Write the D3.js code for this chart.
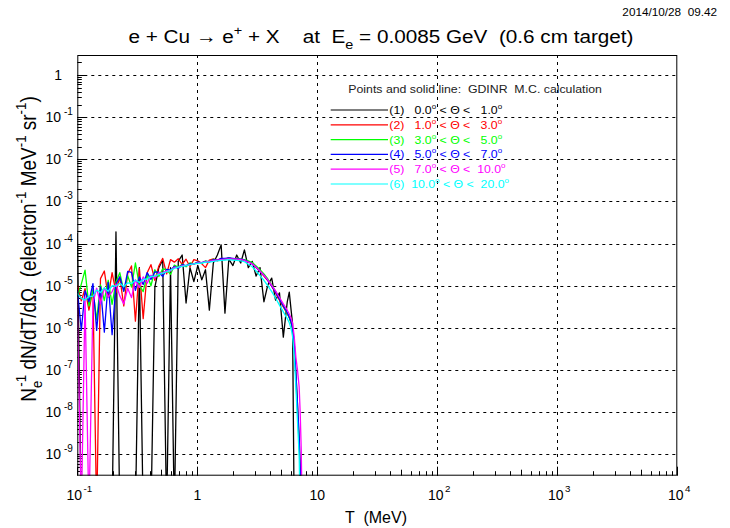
<!DOCTYPE html>
<html>
<head>
<meta charset="utf-8">
<script src="https://cdn.jsdelivr.net/npm/d3@7/dist/d3.min.js"></script>
<style>
  body { margin: 0; background: #fff; }
  text { font-family: 'Liberation Sans', Arial, Helvetica, sans-serif; white-space: pre; }
</style>
</head>
<body>
<svg width="730" height="528"></svg>
<script>
// positron spectrum, GDINR M.C.
// y values are stored as log10(dN/dT/dOmega); null = empty bin (zero)

var energy = [0.100, 0.108, 0.116, 0.125, 0.135, 0.145, 0.156, 0.168, 0.181, 0.195,
  0.210, 0.226, 0.244, 0.263, 0.283, 0.305, 0.329, 0.354, 0.382, 0.411,
  0.443, 0.478, 0.515, 0.555, 0.598, 0.644, 0.694, 0.748, 0.806, 0.869,
  0.936, 1.01, 1.09, 1.17, 1.26, 1.36, 1.47, 1.58, 1.70, 1.83,
  1.98, 2.13, 2.30, 2.47, 2.66, 2.87, 3.09, 3.33, 3.59, 3.87,
  4.17, 4.49, 4.84, 5.21, 5.62, 5.84, 6.05, 6.22, 6.42, 6.63,
  6.84, 7.06, 7.20, 7.35, 7.48];

var log10_ch1 = [-3.75, null, null, null, null, null, null, null, null, null,
  -3.72, null, null, null, null, null, -4.57, null, null, null,
  -5.03, -4.57, -4.39, null, -4.57, null, -4.42, -4.27, -5.41, -4.57,
  -4.90, -4.52, -4.86, -4.62, -5.58, -4.46, -4.27, -4.03, -5.65, -4.37,
  -4.52, -4.27, -4.46, -4.15, -4.57, -4.42, -4.77, -4.57, -5.38, -4.98,
  -4.82, -5.34, -5.17, -6.22, -5.38, -5.15, -5.58, -5.90, null, null,
  null, null, null, null, null];

var log10_ch2 = [-4.98, -5.36, -5.07, -5.58, -5.10, null, -4.83, -4.65, -5.27, -4.69,
  -5.16, -4.79, -5.48, -4.71, -4.53, -5.84, -4.59, -5.78, -4.69, -4.50,
  -4.87, -4.53, -4.35, -4.72, -4.38, -4.44, -4.36, -4.49, -4.37, -4.55,
  -4.38, -4.41, -4.48, -4.57, -4.39, -4.36, -4.41, -4.35, -4.37, -4.34,
  -4.36, -4.35, -4.38, -4.40, -4.43, -4.47, -4.57, -4.65, -4.77, -4.88,
  -5.01, -5.17, -5.34, -5.50, -5.66, -5.75, -5.87, -6.02, -6.35, -7.06,
  -7.82, -8.63, -9.34, null, null];

var log10_ch3 = [-5.28, -4.96, -4.63, -5.48, -5.10, -5.81, -4.98, -5.35, -4.87, -5.44,
  -4.91, -4.69, -5.13, -4.76, -5.03, -4.46, -4.99, -5.14, -4.74, -5.00,
  -4.62, -4.78, -4.60, -4.62, -4.73, -4.51, -4.56, -4.49, -4.55, -4.46,
  -4.48, -4.44, -4.47, -4.41, -4.44, -4.37, -4.40, -4.36, -4.38, -4.34,
  -4.37, -4.35, -4.37, -4.38, -4.41, -4.45, -4.53, -4.62, -4.72, -4.84,
  -4.98, -5.13, -5.31, -5.48, -5.66, -5.76, -5.89, -6.05, -6.43, -7.21,
  -8.00, -8.78, -9.49, null, null];

var log10_ch4 = [-5.08, -6.06, -5.12, -5.38, -4.95, -6.06, -5.03, -6.10, -4.92, -6.16,
  -4.96, -4.79, -5.13, -4.66, -4.68, -5.11, -4.79, -4.97, -4.69, -4.85,
  -4.67, -4.68, -4.78, -4.61, -4.63, -4.54, -4.59, -4.50, -4.52, -4.48,
  -4.49, -4.44, -4.45, -4.42, -4.43, -4.38, -4.39, -4.35, -4.35, -4.34,
  -4.35, -4.36, -4.37, -4.39, -4.43, -4.48, -4.56, -4.66, -4.75, -4.87,
  -5.01, -5.15, -5.32, -5.48, -5.64, -5.74, -5.86, -6.01, -6.35, -7.06,
  -7.82, -8.58, -9.24, null, null];

var log10_ch5 = [-5.28, null, -5.27, null, -5.40, -5.06, -5.43, -5.05, -5.27, -5.14,
  -4.96, -5.24, -5.43, -5.06, -5.28, -4.86, -5.04, -4.79, -4.94, -4.75,
  -4.82, -4.69, -4.70, -4.64, -4.65, -4.56, -4.57, -4.52, -4.52, -4.50,
  -4.48, -4.46, -4.45, -4.43, -4.42, -4.40, -4.39, -4.38, -4.37, -4.36,
  -4.36, -4.37, -4.38, -4.40, -4.44, -4.48, -4.56, -4.65, -4.75, -4.86,
  -4.99, -5.12, -5.28, -5.43, -5.58, -5.67, -5.77, -5.89, -6.20, -6.70,
  -7.00, -7.40, -8.00, -8.90, null];

var log10_ch6 = [-5.18, -5.30, -5.34, -5.25, -5.25, -5.10, -5.16, -5.05, -5.13, -5.00,
  -5.01, -4.94, -5.02, -4.93, -4.95, -4.87, -4.92, -4.85, -4.84, -4.78,
  -4.77, -4.73, -4.70, -4.67, -4.63, -4.59, -4.56, -4.54, -4.52, -4.50,
  -4.48, -4.47, -4.46, -4.44, -4.44, -4.42, -4.41, -4.40, -4.39, -4.38,
  -4.39, -4.40, -4.41, -4.43, -4.49, -4.55, -4.65, -4.76, -4.87, -5.00,
  -5.14, -5.29, -5.46, -5.62, -5.78, -5.88, -6.02, -6.20, -6.65, -7.40,
  -8.22, -9.03, null, null, null];

var thetaLo = ["0.0", "1.0", "3.0", "5.0", "7.0", "10.0"];
var thetaHi = ["1.0", "3.0", "5.0", "7.0", "10.0", "20.0"];
var colors = ["#000000", "#ff0000", "#00ff00", "#0000ff", "#ff00ff", "#00ffff"];
var seriesList = [log10_ch1, log10_ch2, log10_ch3, log10_ch4, log10_ch5, log10_ch6];

var xTicks = [0.1, 1, 10, 100, 1000, 10000];
var xTickExp = ["-1", "", "", "2", "3", "4"];
var yTicks = [1, 1e-1, 1e-2, 1e-3, 1e-4, 1e-5, 1e-6, 1e-7, 1e-8, 1e-9];
var yTickExp = ["", "-1", "-2", "-3", "-4", "-5", "-6", "-7", "-8", "-9"];

// frame
var fLeft = 77.3, fRight = 677.3, fTop = 55, fBottom = 475.7;
var sx = 1.12; // title/legend text is a bit wide in the picture

var svg = d3.select("svg");

var x = d3.scaleLog().domain([0.1, 1e4]).range([fLeft, fRight]);
var y = d3.scaleLog().domain([3.1e-10, 3]).range([fBottom, fTop]);

// text with ROOT-like super/subscripts
function addText(parent, px, py, size, anchor, parts, color, rot, stretch) {
    var st = stretch || sx;
    var tr = "translate(" + px + "," + py + ")" + (rot ? " rotate(-90) scale(1," + st + ")" : " scale(" + st + ",1)");
    var t = parent.append("text")
        .attr("transform", tr)
        .attr("text-anchor", anchor)
        .style("font-size", size + "px")
        .style("fill", color || "#000");
    var shift = 0;
    parts.forEach(function (p) {
        var s = (typeof p === "string") ? {t: p} : p;
        var want = s.sup ? -(s.raise || 0.45) * size : (s.sub ? 0.3 * size : 0);
        var ts = t.append("tspan").text(s.t).attr("dy", want - shift);
        if (s.dx) ts.attr("dx", s.dx);
        if (s.sup || s.sub) ts.style("font-size", (s.small || 0.7) * size + "px");
        shift = want;
    });
    return t;
}

svg.append("clipPath").attr("id", "frameClip")
    .append("rect")
    .attr("x", fLeft).attr("y", fTop)
    .attr("width", fRight - fLeft).attr("height", fBottom - fTop);

// grid
var grid = svg.append("g")
    .attr("stroke", "#000")
    .attr("stroke-width", 1)
    .attr("stroke-dasharray", "3,4");
grid.selectAll("line.gx")
    .data(xTicks.slice(1, 5))
    .enter().append("line")
    .attr("x1", function (d) { return Math.round(x(d)) + 0.5; })
    .attr("x2", function (d) { return Math.round(x(d)) + 0.5; })
    .attr("y1", fTop).attr("y2", fBottom);
grid.selectAll("line.gy")
    .data(yTicks)
    .enter().append("line")
    .attr("y1", function (d) { return Math.round(y(d)) + 0.5; })
    .attr("y2", function (d) { return Math.round(y(d)) + 0.5; })
    .attr("x1", fLeft).attr("x2", fRight);

// minor + major ticks (inside the frame, bottom and left only)
var xMinor = [], yMinor = [];
for (var e = -1; e < 4; e++) {
    for (var k = 2; k < 10; k++) xMinor.push(k * Math.pow(10, e));
}
for (var e2 = -10; e2 < 1; e2++) {
    for (var k2 = 2; k2 < 10; k2++) {
        var v = k2 * Math.pow(10, e2);
        if (v > 3.1e-10 && v < 3) yMinor.push(v);
    }
}
var ticks = svg.append("g").attr("stroke", "#000").attr("stroke-width", 1);
ticks.selectAll("line.xm")
    .data(xMinor)
    .enter().append("line")
    .attr("x1", function (d) { return Math.round(x(d)) + 0.5; })
    .attr("x2", function (d) { return Math.round(x(d)) + 0.5; })
    .attr("y1", fBottom).attr("y2", function (d, i) { return fBottom - (i % 8 === 3 ? 6 : 4.5); });
ticks.selectAll("line.xM")
    .data(xTicks)
    .enter().append("line")
    .attr("x1", function (d) { return Math.round(x(d)) + 0.5; })
    .attr("x2", function (d) { return Math.round(x(d)) + 0.5; })
    .attr("y1", fBottom).attr("y2", fBottom - 9);
ticks.selectAll("line.ym")
    .data(yMinor)
    .enter().append("line")
    .attr("y1", function (d) { return Math.round(y(d)) + 0.5; })
    .attr("y2", function (d) { return Math.round(y(d)) + 0.5; })
    .attr("x1", fLeft).attr("x2", fLeft + 4.5);
ticks.selectAll("line.yM")
    .data(yTicks)
    .enter().append("line")
    .attr("y1", function (d) { return Math.round(y(d)) + 0.5; })
    .attr("y2", function (d) { return Math.round(y(d)) + 0.5; })
    .attr("x1", fLeft).attr("x2", fLeft + 9);

// the spectra
var line = d3.line()
    .x(function (d) { return x(d.t); })
    .y(function (d) { return d.v === null ? fBottom + 40 : y(Math.pow(10, d.v)); });

var curves = svg.append("g").attr("clip-path", "url(#frameClip)");
seriesList.forEach(function (s, i) {
    var pts = energy.map(function (t, j) { return {t: t, v: s[j]}; });
    curves.append("path")
        .datum(pts)
        .attr("fill", "none")
        .attr("stroke", colors[i])
        .attr("stroke-width", 1.3)
        .attr("stroke-linejoin", "round")
        .attr("d", line);
});

// frame on top
svg.append("rect")
    .attr("x", fLeft + 0.5).attr("y", fTop + 0.5)
    .attr("width", fRight - fLeft - 1).attr("height", fBottom - fTop - 1)
    .attr("fill", "none").attr("stroke", "#000").attr("stroke-width", 1);

// axis labels
var lab = svg.append("g");
xTicks.forEach(function (d, i) {
    if (xTickExp[i] === "") {
        addText(lab, x(d), 500, 14, "middle", [d < 5 ? "1" : "10"], "#000", false, 1);
    } else {
        addText(lab, x(d) + 2, 500, 14, "middle",
            ["10", {t: xTickExp[i], sup: true, raise: 0.6, dx: 1.5}], "#000", false, 1);
    }
});
yTicks.forEach(function (d, i) {
    var yy = y(d);
    if (yTickExp[i] === "") {
        addText(lab, 62, yy + 5, 14, "end", ["1"], "#000", false, 1);
    } else {
        addText(lab, 61, yy + 5, 14, "end", ["10"], "#000", false, 1);
        addText(lab, 64, yy - 2, 10, "start", [yTickExp[i]], "#000", false, 1);
    }
});

// titles
addText(svg, 717, 16, 10.5, "end", ["2014/10/28  09.42"]);
addText(svg, 381, 43, 18.5, "middle",
    ["e + Cu \u2192 e", {t: "+", sup: true}, " + X    at  E", {t: "e", sub: true}, " = 0.0085 GeV  (0.6 cm target)"]);
addText(svg, 376, 523, 16, "middle", ["T  (MeV)"], "#000", false, 1);
addText(svg, 36, 249, 19, "middle",
    ["N", {t: "e", sub: true}, {t: "-1", sup: true, dx: -6}, " dN/dT/d\u03A9  (electron", {t: "-1", sup: true},
     " MeV", {t: "-1", sup: true}, " sr", {t: "-1", sup: true}, ")"], "#000", true);

// legend
var leg = svg.append("g");
addText(leg, 348.3, 92.7, 11, "start", ["Points and solid line:  GDINR  M.C. calculation"], "#222");
seriesList.forEach(function (s, i) {
    var ly = 110 + i * 14.8;
    leg.append("line")
        .attr("x1", 330.7).attr("x2", 388)
        .attr("y1", ly).attr("y2", ly)
        .attr("stroke", colors[i])
        .attr("stroke-width", 1.2);
    var lo = thetaLo[i].length < 4 ? " " + thetaLo[i] : thetaLo[i];
    var hi = thetaHi[i].length < 4 ? " " + thetaHi[i] : thetaHi[i];
    addText(leg, 389.3, ly + 4, 11, "start",
        ["(" + (i + 1) + ")  " + lo, {t: "o", sup: true, small: 0.65}, " < \u0398 <  " + hi, {t: "o", sup: true, small: 0.65}],
        colors[i]);
});
</script>
</body>
</html>
